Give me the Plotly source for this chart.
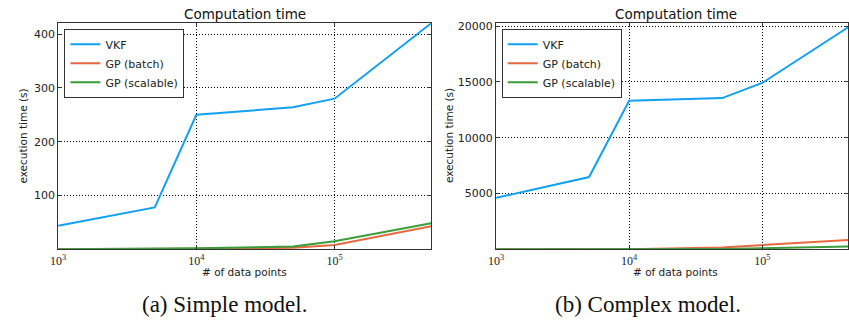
import plotly.graph_objects as go
import numpy as np

# ---- data ----
n_points = [1e3, 5e3, 1e4, 5e4, 1e5, 5e5]

simple_vkf = [44, 78, 250, 264, 280, 420]
simple_gp_batch = [0.3, 0.5, 1, 3, 8, 43]
simple_gp_scalable = [0.5, 1, 2, 5.5, 15, 48.5]

complex_vkf = [4620, 6480, 13320, 13550, 14910, 20300]
complex_gp_batch = [5, 10, 20, 180, 390, 880]
complex_gp_scalable = [5, 10, 20, 40, 100, 280]

series_names = ["VKF", "GP (batch)", "GP (scalable)"]
colors = ["#12a0f2", "#e8693f", "#3a9d3a"]

x_tickvals = [1e3, 1e4, 1e5]
x_ticktext = ["10<sup>3</sup>", "10<sup>4</sup>", "10<sup>5</sup>"]
left_yticks = [100, 200, 300, 400]
right_yticks = [5000, 10000, 15000, 20000]

W, H = 849, 325

def px_x(p):
    return p / W

def px_y(p):
    return 1 - p / H

fig = go.Figure()

panels = [
    ([simple_vkf, simple_gp_batch, simple_gp_scalable], "x", "y", "legend"),
    ([complex_vkf, complex_gp_batch, complex_gp_scalable], "x2", "y2", "legend2"),
]
for data, xa, ya, lg in panels:
    for name, vals, c in zip(series_names, data, colors):
        fig.add_trace(go.Scatter(
            x=n_points, y=vals, mode="lines", name=name,
            line=dict(color=c, width=2), xaxis=xa, yaxis=ya, legend=lg,
        ))

axis_common = dict(
    showline=True, linecolor="#333", linewidth=1, mirror="ticks",
    ticks="inside", ticklen=4, tickcolor="#333",
    showgrid=True, gridcolor="black", griddash="1px,2px", gridwidth=1,
    zeroline=False,
)
xfont = dict(family="Liberation Serif", size=12, color="#222")
yfont = dict(family="DejaVu Sans", size=11, color="#222")

ydom = [px_y(248.7), px_y(20.5)]

fig.update_layout(
    width=W, height=H,
    margin=dict(l=0, r=0, t=0, b=0),
    paper_bgcolor="white", plot_bgcolor="white",
    xaxis=dict(type="log", domain=[px_x(50.7), px_x(427.7)],
               range=[3, np.log10(5e5)], tickvals=x_tickvals, ticktext=x_ticktext,
               tickfont=xfont, anchor="y", **axis_common),
    yaxis=dict(domain=ydom, range=[0, 420], tickvals=left_yticks,
               ticktext=[str(v) for v in left_yticks],
               tickfont=yfont, anchor="x", **axis_common),
    xaxis2=dict(type="log", domain=[px_x(493.3), 1.0],
                range=[3, 3 + (849 - 493.3) / 134.5], tickvals=x_tickvals, ticktext=x_ticktext,
                tickfont=xfont, anchor="y2", **axis_common),
    yaxis2=dict(domain=ydom, range=[0, 20250], tickvals=right_yticks,
                ticktext=[str(v) for v in right_yticks],
                tickfont=yfont, anchor="x2", **axis_common),
    legend=dict(x=px_x(57), y=px_y(26), xanchor="left", yanchor="top",
                bordercolor="#333", borderwidth=1, bgcolor="white",
                font=dict(family="DejaVu Sans", size=11, color="#222"),
                tracegroupgap=0, itemwidth=30),
    legend2=dict(x=px_x(499), y=px_y(26), xanchor="left", yanchor="top",
                 bordercolor="#333", borderwidth=1, bgcolor="white",
                 font=dict(family="DejaVu Sans", size=11, color="#222"),
                 tracegroupgap=0, itemwidth=30),
    showlegend=True,
)

ann_font = dict(family="DejaVu Sans", size=10.5, color="#222")
title_font = dict(family="DejaVu Sans", size=13.5, color="#111")
cap_font = dict(family="Liberation Serif", size=23, color="#111")
annotations = [
    dict(text="Computation time", x=px_x(239.5), y=px_y(11), font=title_font),
    dict(text="Computation time", x=px_x(675), y=px_y(11), font=title_font),
    dict(text="# of data points", x=px_x(239.5), y=px_y(272), font=ann_font),
    dict(text="# of data points", x=px_x(675), y=px_y(272), font=ann_font),
    dict(text="execution time (s)", x=px_x(15), y=px_y(134), font=ann_font, textangle=-90),
    dict(text="execution time (s)", x=px_x(445), y=px_y(134), font=ann_font, textangle=-90),
    dict(text="(a) Simple model.", x=px_x(219), y=px_y(304), font=cap_font),
    dict(text="(b) Complex model.", x=px_x(647), y=px_y(304), font=cap_font),
]
for a in annotations:
    a.update(xref="paper", yref="paper", showarrow=False, xanchor="center", yanchor="middle")
fig.update_layout(annotations=annotations)

fig.write_html(
    "out.html",
    config={"displayModeBar": False},
    post_script="document.body.style.margin='0';document.body.style.overflow='hidden';",
)
